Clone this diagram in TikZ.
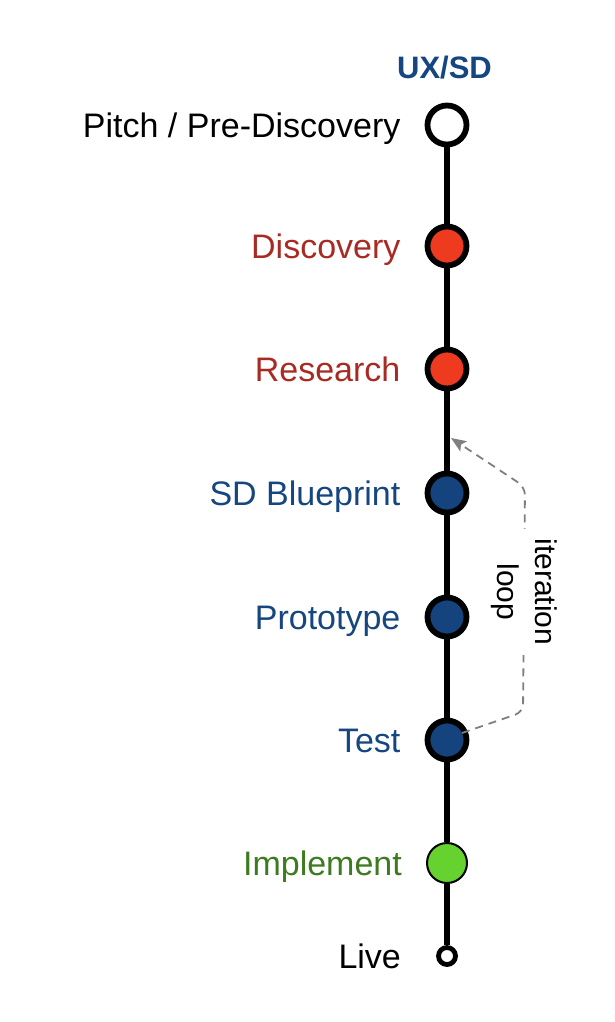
\documentclass[tikz,border=0pt]{standalone}
\usepackage{fontspec}
\setmainfont{Liberation Sans}
\usetikzlibrary{positioning}
\usetikzlibrary{arrows.meta}

\definecolor{redtext}{HTML}{A92A22}
\definecolor{redfill}{HTML}{EE3A1E}
\definecolor{bluetext}{HTML}{15467F}
\definecolor{bluefill}{HTML}{15437D}
\definecolor{greentext}{HTML}{3E7A1F}
\definecolor{greenfill}{HTML}{66D22F}
\definecolor{loopgray}{HTML}{7F7F7F}

\begin{document}
\begin{tikzpicture}[x=1pt,y=-1pt,
                    main node/.style={circle,draw,line width=5.8pt,minimum size=39pt,inner sep=0pt},
                    label node/.style={inner sep=0pt,text height=24pt,text depth=0pt,font=\fontsize{34}{40}\selectfont}]
  \useasboundingbox (0,0) rectangle (614,1022);

		\node[font=\bfseries\fontsize{31}{36}\selectfont,text=bluetext,inner sep=0pt,text height=22pt,text depth=0pt] (uxsd) at (444.5,67.5) {UX/SD};

		\node[main node,fill=white] (pitch) at (447,125) {};
		\node[main node,fill=redfill] (disc) at (447,246) {};
		\node[main node,fill=redfill] (research) at (447,369) {};
		\node[main node,fill=bluefill] (blueprint) at (447,493) {};
		\node[main node,fill=bluefill] (proto) at (447,617) {};
		\node[main node,fill=bluefill] (test) at (447,740) {};
		\node[main node,fill=greenfill,line width=2pt,minimum size=40pt] (impl) at (447,863) {};
		\node[circle,draw,fill=white,line width=4.8pt,minimum size=17pt,inner sep=0pt] (live) at (447,956) {};

		\node[label node] (pitchlbl) [left=24pt of pitch] {Pitch / Pre-Discovery};
		\node[label node,text=redtext] (disclbl) [left=24pt of disc] {Discovery};
		\node[label node,text=redtext] (researchlbl) [left=24pt of research] {Research};
		\node[label node,text=bluetext] (blueprintlbl) [left=24pt of blueprint] {SD Blueprint};
		\node[label node,text=bluetext] (protolbl) [left=24pt of proto] {Prototype};
		\node[label node,text=bluetext] (testlbl) [left=24pt of test] {Test};
		\node[label node,text=greentext] (impllbl) [left=24pt of impl] {Implement};
		\node[label node] (livelbl) [left=35pt of live] {Live};

		\path[line width=5.5pt]
		(pitch) edge (disc)
		(disc) edge (research)
		(research) edge (blueprint)
		(blueprint) edge (proto)
		(proto) edge (test)
		(test) edge (impl)
		(impl) edge (live);

		% iteration loop
		\coordinate (loopstart) at (462,733);
		\coordinate (loopend) at (451,438);
		\draw[loopgray,line width=1.8pt,dash pattern=on 8pt off 6pt,rounded corners=8pt,
		      -{Stealth[length=15pt,width=12pt,inset=3pt]}]
		(loopstart) -- (523,712) -- (525,487) -- (loopend);
		\node[fill=white,rotate=-90,align=center,inner sep=10pt,font=\fontsize{30}{38}\selectfont] (looplbl) at (524,592) {iteration\\loop};
	\end{tikzpicture}
\end{document}
